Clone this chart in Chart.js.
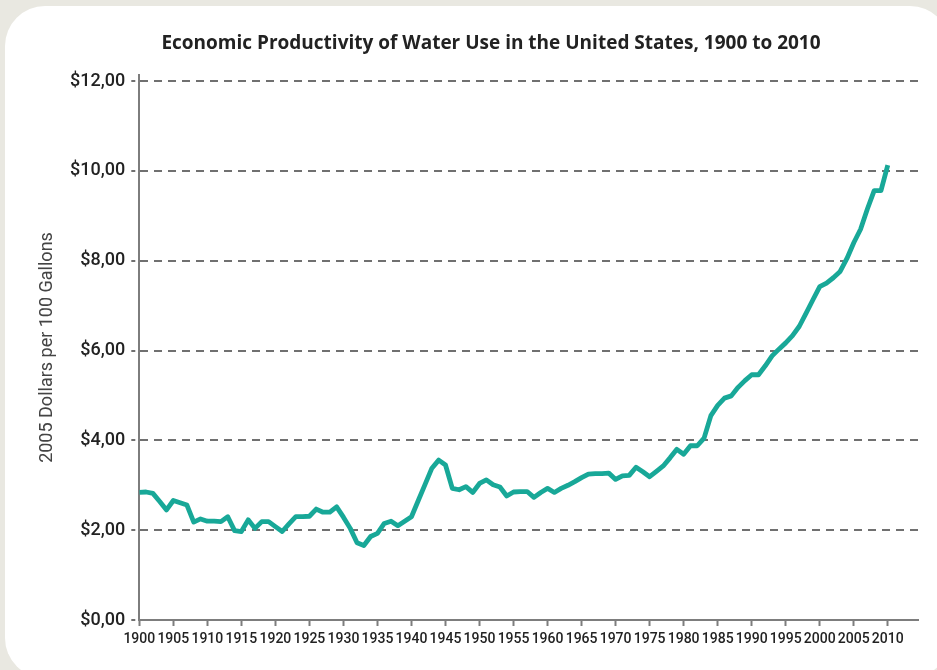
<!DOCTYPE html>
<html>
<head>
<meta charset="utf-8">
<script src="https://cdn.jsdelivr.net/npm/chart.js@4.4.1/dist/chart.umd.min.js"></script>
<style>
  html, body { margin: 0; padding: 0; }
  body { width: 937px; height: 670px; background: #e9e8e1; position: relative; overflow: hidden; }
  #card { position: absolute; left: 5px; top: 6px; width: 945px; height: 672px; background: #ffffff; border-radius: 40px; }
  #wrap { position: absolute; left: 0; top: 0; width: 937px; height: 670px; }
</style>
</head>
<body>
<div id="card"></div>
<div id="wrap"><canvas id="water-chart"></canvas></div>
<script>
// Productividad económica del agua, EE.UU. 1900-2010 (dólares de 2005 por 100 galones)

const years = [
  1900, 1901, 1902, 1903, 1904, 1905, 1906, 1907, 1908, 1909,
  1910, 1911, 1912, 1913, 1914, 1915, 1916, 1917, 1918, 1919,
  1920, 1921, 1922, 1923, 1924, 1925, 1926, 1927, 1928, 1929,
  1930, 1931, 1932, 1933, 1934, 1935, 1936, 1937, 1938, 1939,
  1940, 1941, 1942, 1943, 1944, 1945, 1946, 1947, 1948, 1949,
  1950, 1951, 1952, 1953, 1954, 1955, 1956, 1957, 1958, 1959,
  1960, 1961, 1962, 1963, 1964, 1965, 1966, 1967, 1968, 1969,
  1970, 1971, 1972, 1973, 1974, 1975, 1976, 1977, 1978, 1979,
  1980, 1981, 1982, 1983, 1984, 1985, 1986, 1987, 1988, 1989,
  1990, 1991, 1992, 1993, 1994, 1995, 1996, 1997, 1998, 1999,
  2000, 2001, 2002, 2003, 2004, 2005, 2006, 2007, 2008, 2009,
  2010
];

const productivity = [
  2.84, 2.85, 2.82, 2.64, 2.45, 2.66, 2.61, 2.56, 2.18, 2.25,
  2.20, 2.20, 2.19, 2.30, 1.99, 1.97, 2.23, 2.04, 2.19, 2.19,
  2.08, 1.97, 2.14, 2.30, 2.30, 2.31, 2.47, 2.40, 2.40, 2.52,
  2.29, 2.04, 1.72, 1.66, 1.86, 1.93, 2.15, 2.20, 2.10, 2.20,
  2.30, 2.66, 3.02, 3.38, 3.56, 3.45, 2.93, 2.90, 2.97, 2.84,
  3.04, 3.12, 3.01, 2.96, 2.76, 2.85, 2.86, 2.86, 2.73, 2.84,
  2.93, 2.84, 2.93, 3.00, 3.08, 3.17, 3.25, 3.26, 3.26, 3.27,
  3.13, 3.21, 3.22, 3.40, 3.30, 3.19, 3.31, 3.43, 3.61, 3.80,
  3.69, 3.88, 3.88, 4.05, 4.55, 4.78, 4.94, 4.99, 5.18, 5.33,
  5.46, 5.46, 5.66, 5.88, 6.03, 6.17, 6.33, 6.54, 6.83, 7.13,
  7.42, 7.50, 7.62, 7.76, 8.05, 8.40, 8.70, 9.15, 9.56, 9.56,
  10.13
];

const xTickYears = [1900, 1905, 1910, 1915, 1920, 1925, 1930, 1935, 1940, 1945, 1950, 1955,
  1960, 1965, 1970, 1975, 1980, 1985, 1990, 1995, 2000, 2005, 2010];
const yTickValues = [0, 2, 4, 6, 8, 10, 12];

const LINE_COLOR = "#18a898";
const AXIS_COLOR = "#7d7d7d";
const GRID_COLOR = "#707070";

const points = years.map((y, i) => ({ x: y, y: productivity[i] }));

const ctx = document.getElementById("water-chart").getContext("2d");
new Chart(ctx, {
  type: "line",
  data: {
    datasets: [
      {
        data: points,
        borderColor: LINE_COLOR,
        borderWidth: 4.8,
        pointRadius: 0,
        tension: 0,
        fill: false,
        borderJoinStyle: "round",
      },
    ],
  },
  options: {
    responsive: true,
    maintainAspectRatio: false,
    animation: false,
    layout: {
      padding: { left: 64, right: 19, top: 0, bottom: 0 },
    },
    plugins: {
      legend: { display: false },
      tooltip: { enabled: false },
      title: {
        display: true,
        text: "Economic Productivity of Water Use in the United States, 1900 to 2010",
        color: "#222222",
        font: { family: "'Open Sans'", size: 19, weight: "bold" },
        padding: { top: 32, bottom: 20.2 },
      },
    },
    scales: {
      x: {
        type: "linear",
        min: 1900,
        max: 2014.44,
        afterBuildTicks: function (scale) {
          scale.ticks = xTickYears.map((v) => ({ value: v }));
        },
        afterFit: function (scale) {
          scale.height = 50;
        },
        border: { display: true, color: AXIS_COLOR, width: 2 },
        grid: {
          drawOnChartArea: false,
          drawTicks: true,
          tickLength: 6,
          tickColor: AXIS_COLOR,
          tickWidth: 2,
        },
        ticks: {
          autoSkip: false,
          maxRotation: 0,
          padding: 5,
          color: "#222222",
          font: { family: "Roboto", size: 14, weight: "500" },
          callback: function (value) {
            return String(value);
          },
        },
      },
      y: {
        min: 0,
        max: 12.134,
        afterBuildTicks: function (scale) {
          scale.ticks = yTickValues.map((v) => ({ value: v }));
        },
        afterFit: function (scale) {
          scale.width = 75.3;
        },
        border: { display: true, color: AXIS_COLOR, width: 2, dash: [8, 6] },
        grid: {
          color: GRID_COLOR,
          lineWidth: 2,
          drawTicks: true,
          tickLength: 8,
          tickColor: GRID_COLOR,
          tickWidth: 2,
          tickBorderDash: [4, 4],
        },
        ticks: {
          padding: 6,
          color: "#222222",
          font: { family: "Roboto", size: 18, weight: "500" },
          callback: function (value) {
            return "$" + value.toFixed(2).replace(".", ",");
          },
        },
        title: {
          display: true,
          text: "2005 Dollars per 100 Gallons",
          color: "#444444",
          font: { family: "Roboto", size: 18, weight: "normal" },
          padding: { top: -27.6, bottom: 0 },
        },
      },
    },
  },
});
</script>
</body>
</html>
